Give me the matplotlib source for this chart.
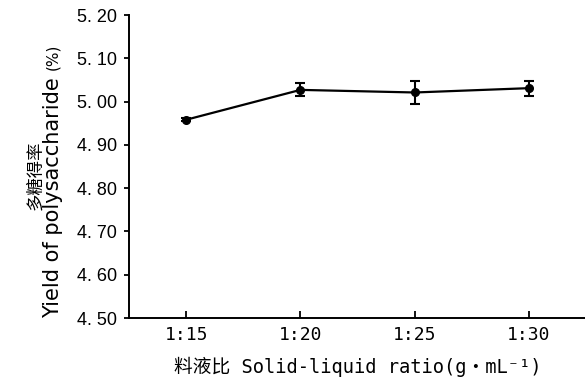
import matplotlib
matplotlib.use('Agg')
import matplotlib.pyplot as plt
import numpy as np

plt.rcParams['font.family'] = ['DejaVu Sans Mono', 'Noto Sans CJK SC']

ratios = ['1:15', '1:20', '1:25', '1:30']
yield_pct = [4.958, 5.027, 5.021, 5.031]
yield_err = [0.003, 0.015, 0.026, 0.017]
y_ticks = [4.50, 4.60, 4.70, 4.80, 4.90, 5.00, 5.10, 5.20]

W, H = 585, 379
fig = plt.figure(figsize=(W / 100, H / 100), dpi=100)
ax = fig.add_axes([129 / W, 1 - 318 / H, (W - 129) / W + 0.002, (318 - 15) / H])

x = np.arange(len(ratios))
ax.errorbar(x, yield_pct, yerr=yield_err, color='black', linewidth=1.6,
            marker='o', markersize=5.5, capsize=3.8, capthick=1.5, elinewidth=1.5)

ax.set_xlim(-0.5, 3.5)
ax.set_ylim(4.50, 5.20)
ax.set_xticks(x)
ax.set_xticklabels(ratios)
ax.set_yticks(y_ticks)
# y labels written like "5. 20"
ax.set_yticklabels([('%.2f' % v).replace('.', '. ') for v in y_ticks],
                   fontfamily='Liberation Sans')

ax.spines['top'].set_visible(False)
ax.spines['right'].set_visible(False)
ax.spines['left'].set_linewidth(1.4)
ax.spines['bottom'].set_linewidth(1.4)
ax.tick_params(axis='y', direction='out', length=3.6, width=1.3, labelsize=13, pad=5)
ax.tick_params(axis='x', direction='in', length=5, width=1.3, labelsize=13, pad=6)

ax.set_xlabel('料液比 Solid-liquid ratio(g・mL⁻¹)', fontsize=13.5, labelpad=9)

# two-line y label: Chinese on the outside, English next to the axis
fig.text(35 / W, 1 - 175 / H, '多糖得率', rotation=90, ha='center', va='center',
         fontsize=12.5, fontfamily='Noto Sans CJK SC')
fig.text(53 / W, 1 - 318 / H, 'Yield of polysaccharide', rotation=90,
         ha='center', va='bottom', fontsize=15, fontfamily='DejaVu Sans')
fig.text(53 / W, 1 - 70 / H, '(%)', rotation=90, ha='center', va='bottom',
         fontsize=11, fontfamily='DejaVu Sans')

fig.savefig('out.png', dpi=100)
